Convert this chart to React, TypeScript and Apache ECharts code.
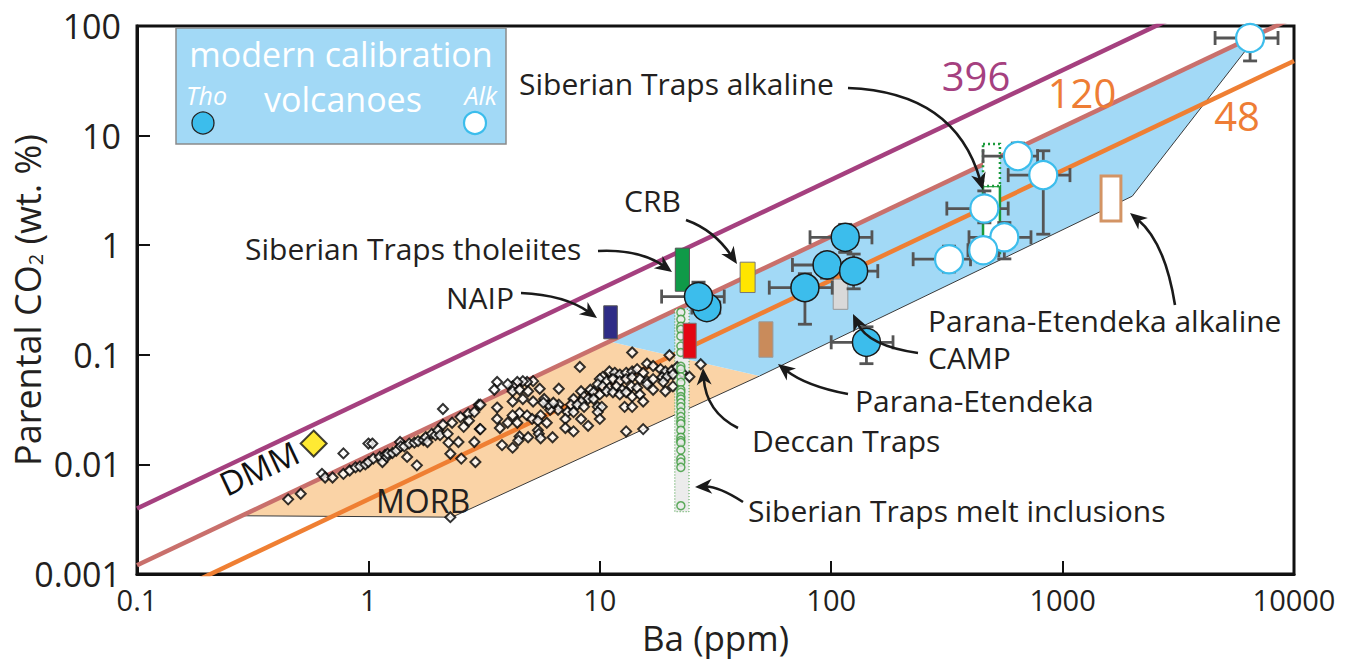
import React, { useEffect, useRef } from "react";
import * as echarts from "echarts";

const FONT = "'Open Sans', 'Noto Sans', sans-serif";
const TEXT = "#231f20";

// ---------- axes ----------
const xTickLabels = ["0.1", "1", "10", "100", "1000", "10000"];
const yTickLabels = ["0.001", "0.01", "0.1", "1", "10", "100"];

// ---------- CO2/Ba ratio lines ----------
const ratioValues = [396, 120, 48];
const ratioColors = ["#a5407f", "#c9706c", "#ef7f33"];
const ratioLineBa = [0.1, 10000];

// ---------- fields (polygons) ----------
const morbFieldBa = [0.28, 11, 49, 2.3];
const morbFieldCO2 = [0.0034, 0.132, 0.064, 0.0033];
const calibFieldBa = [11, 7000, 2000, 49];
const calibFieldCO2 = [0.132, 84, 2.8, 0.064];

// ---------- MORB samples [Ba ppm, CO2 wt%] ----------
const morbSamples: [number, number][] = [
  [0.45, 0.0048], [0.51, 0.0054], [0.63, 0.0082], [0.65, 0.0076], [0.7, 0.0076], [0.78, 0.0082],
  [0.78, 0.0126], [0.83, 0.0088], [0.88, 0.0094], [0.92, 0.0096], [0.97, 0.01], [1.0, 0.0105],
  [1.0, 0.0155], [1.04, 0.0155], [1.05, 0.0113], [1.12, 0.0117], [1.15, 0.0105], [1.18, 0.0122],
  [1.2, 0.0117], [1.21, 0.0125], [1.27, 0.0127], [1.32, 0.0133], [1.37, 0.016], [1.38, 0.0146],
  [1.43, 0.0146], [1.47, 0.0117], [1.5, 0.0155], [1.58, 0.0158], [1.62, 0.0098], [1.64, 0.0163],
  [1.73, 0.0167], [1.77, 0.0177], [1.8, 0.016], [1.88, 0.019], [1.95, 0.0185], [2.0, 0.0205],
  [2.04, 0.0185], [2.1, 0.023], [2.1, 0.032], [2.2, 0.019], [2.26, 0.0125], [2.22, 0.0158],
  [2.3, 0.024], [2.45, 0.016], [2.5, 0.027], [2.52, 0.0113], [2.58, 0.022], [2.7, 0.029],
  [2.72, 0.025], [2.87, 0.016], [2.9, 0.0105], [2.87, 0.03], [3.0, 0.035], [3.03, 0.021],
  [2.26, 0.0033],
  [13.8, 0.105], [20.0, 0.099], [8.2, 0.0775], [27.3, 0.082], [16.0, 0.083], [17.0, 0.079],
  [18.3, 0.074], [19.2, 0.0705], [20.5, 0.072], [21.6, 0.0775], [22.7, 0.0685], [24.4, 0.063],
  [11.0, 0.0705], [11.6, 0.0685], [12.2, 0.066], [13.0, 0.0685], [13.8, 0.0705], [14.5, 0.074],
  [15.4, 0.0685], [10.3, 0.063], [10.0, 0.06], [10.7, 0.0575], [11.4, 0.06], [12.2, 0.0575],
  [13.0, 0.06], [13.8, 0.0625], [14.9, 0.06], [16.0, 0.0575], [17.0, 0.06], [18.6, 0.0625],
  [19.5, 0.063], [20.7, 0.066], [9.8, 0.054], [10.3, 0.0515], [11.0, 0.05], [11.8, 0.0515],
  [12.5, 0.048], [13.7, 0.0515], [14.5, 0.05], [16.0, 0.054], [17.0, 0.048], [18.8, 0.0565],
  [19.2, 0.0465], [20.7, 0.0515], [9.1, 0.048], [9.4, 0.0455], [10.0, 0.0435], [10.7, 0.0465],
  [11.4, 0.0455], [12.2, 0.0435], [13.0, 0.0455], [13.8, 0.0415], [14.9, 0.0435], [8.3, 0.0465],
  [8.55, 0.0415], [8.9, 0.0395], [9.4, 0.0395], [8.3, 0.0375], [7.7, 0.0395], [7.5, 0.035],
  [8.0, 0.035], [8.55, 0.0335], [9.8, 0.0335], [10.2, 0.0335], [12.8, 0.0335], [13.8, 0.0335],
  [15.4, 0.0375], [7.25, 0.03], [7.7, 0.03], [9.8, 0.03], [10.0, 0.026], [7.1, 0.026],
  [8.3, 0.026], [8.9, 0.0225], [7.1, 0.0215], [7.7, 0.02], [13.0, 0.02], [15.4, 0.021],
  [6.65, 0.049], [6.65, 0.035], [6.6, 0.0315], [6.1, 0.0315], [6.0, 0.035], [6.3, 0.0365],
  [5.75, 0.0395], [5.5, 0.049], [5.15, 0.0575], [4.85, 0.0565], [4.65, 0.0575], [4.4, 0.0565],
  [4.2, 0.0515], [4.0, 0.054], [3.6, 0.0565], [3.5, 0.048], [4.2, 0.0465], [4.5, 0.048],
  [4.9, 0.0465], [4.2, 0.0375], [4.65, 0.0395], [5.15, 0.0375], [5.7, 0.0365], [3.6, 0.033],
  [4.5, 0.0295], [4.2, 0.028], [4.85, 0.028], [5.1, 0.026], [5.55, 0.028], [5.4, 0.025],
  [3.6, 0.026], [4.0, 0.024], [4.4, 0.024], [5.9, 0.024], [3.7, 0.0215], [5.4, 0.0205],
  [5.45, 0.019], [4.5, 0.018], [4.9, 0.0177], [5.55, 0.0173], [6.25, 0.0177], [4.45, 0.0165],
  [3.78, 0.015], [4.2, 0.0142], [3.05, 0.035], [3.05, 0.021],
];

// ---------- DMM ----------
const dmmBa = 0.58;
const dmmCO2 = 0.0155;

// ---------- Siberian Traps melt inclusions ----------
const meltInclusionBa = 22.4;
const meltInclusionCO2 = [
  0.244, 0.211, 0.182, 0.171, 0.148, 0.12, 0.105, 0.0785, 0.074, 0.063, 0.056, 0.048, 0.0455,
  0.0415, 0.0395, 0.0365, 0.0335, 0.03, 0.0273, 0.025, 0.0235, 0.0205, 0.0177, 0.0165, 0.0158,
  0.0135, 0.0113, 0.0105, 0.0094, 0.0042,
];
const meltColumnBa = [21.1, 24.3];
const meltColumnCO2 = [0.0037, 0.26];

// ---------- LIP estimates (boxes) ----------
const provinceNames = [
  "NAIP", "Siberian Traps tholeiites", "Deccan Traps", "CRB", "Parana-Etendeka", "CAMP",
  "Parana-Etendeka alkaline", "Siberian Traps alkaline", "Siberian Traps alkaline (max)",
];
const provinceBaMin = [10.4, 21.2, 22.9, 40.4, 48.7, 102, 1466, 453, 453];
const provinceBaMax = [11.9, 24.4, 26.1, 46.9, 56, 118, 1786, 536, 536];
const provinceCO2Min = [0.14, 0.38, 0.093, 0.37, 0.095, 0.26, 1.66, 0.85, 3.46];
const provinceCO2Max = [0.28, 0.94, 0.194, 0.7, 0.2, 0.49, 4.27, 3.46, 8.4];
const provinceFill = ["#2e2c86", "#0f9a48", "#e30613", "#ffe500", "#c98b5b", "#d9d9d9", "#ffffff", "#ffffff", "#ffffff"];
const provinceStroke = ["#555", "#555", "#777", "#777", "#999", "#999", "#d39464", "#1a9a3a", "#1a9a3a"];
const provinceLineWidth = [1, 1, 1, 1, 1, 1, 3, 2.5, 2.5];

// ---------- calibration volcanoes ----------
const thoBa = [29, 26.7, 115, 96, 125, 77, 142];
const thoCO2 = [0.27, 0.34, 1.18, 0.66, 0.58, 0.41, 0.13];
const thoBaLow = [25, 18.5, 81, 68, 97, 54, 100];
const thoBaHigh = [33, 34.5, 150, 118, 159, 101, 185];
const thoCO2Low = [0.23, 0.27, 0.86, 0.5, 0.4, 0.19, 0.083];
const thoCO2High = [0.31, 0.46, 1.55, 0.85, 0.83, 0.55, 0.18];

const alkBa = [6460, 641, 825, 459, 560, 454, 323];
const alkCO2 = [77.7, 6.5, 4.36, 2.16, 1.18, 0.9, 0.745];
const alkBaLow = [4560, 453, 582, 316, 394, 390, 226];
const alkBaHigh = [8530, 780, 1076, 582, 730, 530, 400];
const alkCO2Low = [48, 5.2, 1.26, 1.6, 0.75, 0.7, 0.57];
const alkCO2High = [98, 8.55, 7.27, 3.13, 1.61, 1.15, 0.98];

// ---------- annotations ----------
const annotationTexts = [
  "Siberian Traps alkaline", "CRB", "Siberian Traps tholeiites", "NAIP",
  "Parana-Etendeka alkaline", "CAMP", "Parana-Etendeka", "Deccan Traps",
  "Siberian Traps melt inclusions",
];
const annotationPos: [number, number][] = [
  [519, 83], [624, 200], [245, 248], [446, 297], [928, 320], [928, 357], [855, 400], [752, 440], [748, 510],
];
// arrows: start, control, end (pixels)
const arrowPaths: number[][] = [
  [848, 88, 955, 92, 983, 190],
  [686, 220, 714, 230, 737, 264],
  [598, 251, 640, 249, 672, 272],
  [521, 293, 565, 295, 597, 318],
  [738, 428, 706, 412, 703, 368],
  [743, 502, 718, 486, 695, 487],
  [848, 394, 806, 386, 778, 364],
  [918, 353, 868, 346, 853, 314],
  [1175, 305, 1165, 242, 1130, 213],
];

function arrow(p: number[]) {
  const [x0, y0, cx, cy, x1, y1] = p;
  const dx = x1 - cx;
  const dy = y1 - cy;
  const L = Math.hypot(dx, dy);
  const ux = dx / L;
  const uy = dy / L;
  const hl = 17;
  const hw = 7.5;
  const bx = x1 - ux * hl;
  const by = y1 - uy * hl;
  const nx = -uy;
  const ny = ux;
  return [
    {
      type: "bezierCurve",
      z: 100,
      shape: { x1: x0, y1: y0, cpx1: cx, cpy1: cy, x2: x1 - ux * 10, y2: y1 - uy * 10 },
      style: { stroke: "#1a1a1a", lineWidth: 2.6, fill: null },
    },
    {
      type: "polygon",
      z: 100,
      shape: {
        points: [
          [x1, y1],
          [bx + nx * hw, by + ny * hw],
          [x1 - ux * 12, y1 - uy * 12],
          [bx - nx * hw, by - ny * hw],
        ],
      },
      style: { fill: "#1a1a1a" },
    },
  ];
}

function tickFormatter(labels: string[]) {
  return (v: number) => {
    const t = labels.find((s) => Math.abs(Math.log10(Number(s)) - Math.log10(v)) < 0.01);
    return t ?? "";
  };
}

function fieldSeries(ba: number[], co2: number[], fill: string, strokeIdx: number[], z: number) {
  return {
    type: "custom",
    z,
    silent: true,
    data: [[ba[0], co2[0]]],
    encode: { x: 0, y: 1 },
    renderItem: (_p: any, api: any) => {
      const pts = ba.map((b, i) => api.coord([b, co2[i]]));
      return {
        type: "group",
        children: [
          { type: "polygon", shape: { points: pts }, style: { fill, stroke: null } },
          {
            type: "polyline",
            shape: { points: strokeIdx.map((i) => pts[i]) },
            style: { stroke: "#3a3a3a", lineWidth: 1, fill: null },
          },
        ],
      };
    },
  };
}

function errorBarSeries(ba: number[], co2: number[], bl: number[], bh: number[], cl: number[], ch: number[]) {
  return {
    type: "custom",
    z: 7,
    silent: true,
    data: ba.map((b, i) => [b, co2[i], bl[i], bh[i], cl[i], ch[i]]),
    encode: { x: [0, 2, 3], y: [1, 4, 5] },
    renderItem: (_p: any, api: any) => {
      const x = api.value(0);
      const y = api.value(1);
      const pl = api.coord([api.value(2), y]);
      const ph = api.coord([api.value(3), y]);
      const pb = api.coord([x, api.value(4)]);
      const pt = api.coord([x, api.value(5)]);
      const cap = 7;
      const st = { stroke: "#555", lineWidth: 2.8 };
      const ln = (a: number[], b: number[]) => ({
        type: "line",
        shape: { x1: a[0], y1: a[1], x2: b[0], y2: b[1] },
        style: st,
      });
      return {
        type: "group",
        children: [
          ln(pl, ph),
          ln([pl[0], pl[1] - cap], [pl[0], pl[1] + cap]),
          ln([ph[0], ph[1] - cap], [ph[0], ph[1] + cap]),
          ln(pb, pt),
          ln([pb[0] - cap, pb[1]], [pb[0] + cap, pb[1]]),
          ln([pt[0] - cap, pt[1]], [pt[0] + cap, pt[1]]),
        ],
      };
    },
  };
}

function buildOption() {
  const ratioSeries = ratioValues.map((r, i) => ({
    type: "line",
    name: String(r),
    z: 2,
    silent: true,
    symbol: "none",
    clip: true,
    data: ratioLineBa.map((b) => [b, (r * b) / 10000]),
    lineStyle: { color: ratioColors[i], width: 4.5 },
  }));

  const graphic: any[] = [
    {
      type: "rect",
      z: 90,
      shape: { x: 176, y: 28, width: 330, height: 116 },
      style: { fill: "#a2d9f6", stroke: "#8a8a8a", lineWidth: 1.5 },
    },
    {
      type: "text", z: 91, x: 341, y: 54,
      style: { text: "modern calibration", fontSize: 34, fontFamily: FONT, fill: "#ffffff", textAlign: "center", textVerticalAlign: "middle" },
    },
    {
      type: "text", z: 91, x: 343, y: 99,
      style: { text: "volcanoes", fontSize: 34, fontFamily: FONT, fill: "#ffffff", textAlign: "center", textVerticalAlign: "middle" },
    },
    {
      type: "text", z: 91, x: 186, y: 95,
      style: { text: "Tho", fontSize: 25, fontStyle: "italic", fontFamily: FONT, fill: "#ffffff", textAlign: "left", textVerticalAlign: "middle" },
    },
    {
      type: "text", z: 91, x: 497, y: 95,
      style: { text: "Alk", fontSize: 25, fontStyle: "italic", fontFamily: FONT, fill: "#ffffff", textAlign: "right", textVerticalAlign: "middle" },
    },
    { type: "circle", z: 91, shape: { cx: 203, cy: 123, r: 11 }, style: { fill: "#3cbdec", stroke: "#222", lineWidth: 1.3 } },
    { type: "circle", z: 91, shape: { cx: 475, cy: 123, r: 11 }, style: { fill: "#ffffff", stroke: "#3cbdec", lineWidth: 2.2 } },
    {
      type: "text", z: 91, x: 976, y: 75,
      style: { text: String(ratioValues[0]), fontSize: 40, fontFamily: FONT, fill: "#a5407f", textAlign: "center", textVerticalAlign: "middle" },
    },
    {
      type: "text", z: 91, x: 1082, y: 92,
      style: { text: String(ratioValues[1]), fontSize: 40, fontFamily: FONT, fill: "#ee7d35", textAlign: "center", textVerticalAlign: "middle" },
    },
    {
      type: "text", z: 91, x: 1237, y: 115,
      style: { text: String(ratioValues[2]), fontSize: 40, fontFamily: FONT, fill: "#ee7d35", textAlign: "center", textVerticalAlign: "middle" },
    },
    {
      type: "text", z: 91, x: 259, y: 468, rotation: 0.44,
      style: { text: "DMM", fontSize: 33, fontFamily: FONT, fill: "#111", textAlign: "center", textVerticalAlign: "middle" },
    },
    {
      type: "text", z: 91, x: 423, y: 500,
      style: { text: "MORB", fontSize: 32, fontFamily: FONT, fill: TEXT, textAlign: "center", textVerticalAlign: "middle" },
    },
  ];
  annotationTexts.forEach((t, i) => {
    graphic.push({
      type: "text", z: 95, x: annotationPos[i][0], y: annotationPos[i][1],
      style: { text: t, fontSize: 30, fontFamily: FONT, fill: TEXT, textAlign: "left", textVerticalAlign: "middle" },
    });
  });
  arrowPaths.forEach((p) => graphic.push(...arrow(p)));

  return {
    animation: false,
    backgroundColor: "#ffffff",
    grid: {
      left: 137, right: 53, top: 26, bottom: 94,
      containLabel: false,
      outerBoundsMode: "none",
      show: true, borderColor: "#111", borderWidth: 3, backgroundColor: "transparent",
    },
    xAxis: {
      type: "log",
      logBase: 10,
      min: 0.1,
      max: 10000,
      interval: 1,
      name: "Ba (ppm)",
      nameLocation: "middle",
      nameGap: 46,
      nameMoveOverlap: false,
      nameTextStyle: { fontSize: 35, fontFamily: FONT, color: TEXT },
      axisLine: { show: true, lineStyle: { color: "#111", width: 3 } },
      axisTick: { show: true, inside: true, length: 13, lineStyle: { color: "#111", width: 2 } },
      minorTick: { show: false },
      splitLine: { show: false },
      axisLabel: {
        fontSize: 29, fontFamily: FONT, color: TEXT, margin: 11,
        showMinLabel: true, showMaxLabel: true,
        formatter: tickFormatter(xTickLabels),
      },
    },
    yAxis: {
      type: "log",
      logBase: 10,
      min: 0.001,
      max: 100,
      interval: 1,
      name: "Parental CO{sub|2} (wt. %)",
      nameLocation: "middle",
      nameGap: 92,
      nameMoveOverlap: false,
      nameTextStyle: {
        fontSize: 36, fontFamily: FONT, color: TEXT,
        rich: { sub: { fontSize: 20, fontFamily: FONT, color: TEXT, verticalAlign: "bottom", padding: [14, 0, 0, 0] } },
      },
      axisLine: { show: true, lineStyle: { color: "#111", width: 3 } },
      axisTick: { show: true, inside: true, length: 13, lineStyle: { color: "#111", width: 2 } },
      minorTick: { show: false },
      splitLine: { show: false },
      axisLabel: {
        fontSize: 34, fontFamily: FONT, color: TEXT, margin: 16,
        showMinLabel: true, showMaxLabel: true,
        formatter: tickFormatter(yTickLabels),
      },
    },
    graphic,
    series: [
      fieldSeries(morbFieldBa, morbFieldCO2, "#fad3a6", [2, 3, 0], 1),
      fieldSeries(calibFieldBa, calibFieldCO2, "#a2d9f6", [1, 2, 3], 1),
      ...ratioSeries,
      {
        type: "custom",
        z: 3,
        silent: true,
        data: [[meltColumnBa[0], meltColumnCO2[0], meltColumnBa[1], meltColumnCO2[1]]],
        encode: { x: [0, 2], y: [1, 3] },
        renderItem: (_p: any, api: any) => {
          const a = api.coord([api.value(0), api.value(3)]);
          const b = api.coord([api.value(2), api.value(1)]);
          return {
            type: "rect",
            shape: { x: a[0], y: a[1], width: b[0] - a[0], height: b[1] - a[1] },
            style: { fill: "#ececec", stroke: "#3a9a3a", lineWidth: 1, lineDash: [1, 2] },
          };
        },
      },
      {
        type: "scatter",
        name: "MORB",
        z: 4,
        silent: true,
        symbol: "diamond",
        symbolSize: 10,
        data: morbSamples,
        itemStyle: { color: "#ffffff", borderColor: "#000", borderWidth: 2 },
      },
      {
        type: "scatter",
        name: "Siberian Traps melt inclusions",
        z: 5,
        silent: true,
        symbol: "circle",
        symbolSize: 8,
        data: meltInclusionCO2.map((c) => [meltInclusionBa, c]),
        itemStyle: { color: "#ececec", borderColor: "#3a9a3a", borderWidth: 1.5 },
      },
      {
        type: "scatter",
        name: "DMM",
        z: 5,
        silent: true,
        symbol: "diamond",
        symbolSize: 26,
        data: [[dmmBa, dmmCO2]],
        itemStyle: { color: "#ffe500", borderColor: "#111", borderWidth: 2 },
      },
      {
        type: "custom",
        z: 6,
        silent: true,
        data: provinceNames.map((_n, i) => [provinceBaMin[i], provinceCO2Min[i], provinceBaMax[i], provinceCO2Max[i]]),
        encode: { x: [0, 2], y: [1, 3] },
        renderItem: (p: any, api: any) => {
          const i = p.dataIndex;
          const a = api.coord([api.value(0), api.value(3)]);
          const b = api.coord([api.value(2), api.value(1)]);
          return {
            type: "rect",
            shape: { x: a[0], y: a[1], width: b[0] - a[0], height: b[1] - a[1] },
            style: {
              fill: provinceFill[i],
              stroke: provinceStroke[i],
              lineWidth: provinceLineWidth[i],
              lineDash: i === 8 ? [2, 3] : null,
            },
          };
        },
      },
      errorBarSeries(thoBa, thoCO2, thoBaLow, thoBaHigh, thoCO2Low, thoCO2High),
      errorBarSeries(alkBa, alkCO2, alkBaLow, alkBaHigh, alkCO2Low, alkCO2High),
      {
        type: "scatter",
        name: "Tho",
        z: 8,
        silent: true,
        symbolSize: 28,
        data: thoBa.map((b, i) => [b, thoCO2[i]]),
        itemStyle: { color: "#3cbdec", borderColor: "#1a1a1a", borderWidth: 1.5, opacity: 1 },
      },
      {
        type: "scatter",
        name: "Alk",
        z: 8,
        silent: true,
        symbolSize: 28,
        data: alkBa.map((b, i) => [b, alkCO2[i]]),
        itemStyle: { color: "#ffffff", borderColor: "#3cbdec", borderWidth: 2.2, opacity: 1 },
      },
    ],
  };
}

export default function App() {
  const ref = useRef<HTMLDivElement>(null);
  useEffect(() => {
    document.body.style.margin = "0";
    const chart = echarts.init(ref.current!, undefined, { renderer: "svg" });
    chart.setOption(buildOption() as any);
    return () => chart.dispose();
  }, []);
  return <div ref={ref} style={{ width: 1347, height: 668 }} />;
}
